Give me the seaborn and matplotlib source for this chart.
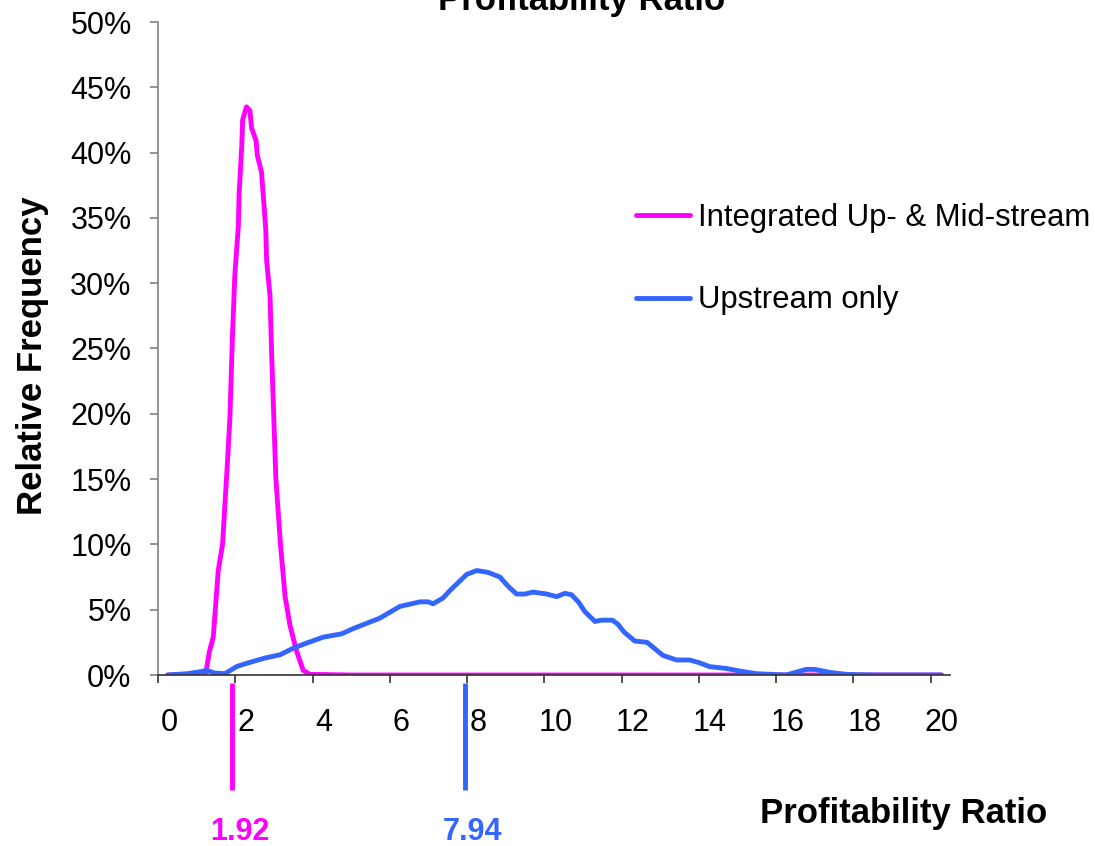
import numpy as np
import pandas as pd
import seaborn as sns
import matplotlib.pyplot as plt
from matplotlib.transforms import ScaledTranslation

#
# Data (x = profitability ratio, y = relative frequency in %)
#

integrated_x = [0.25, 1.0, 1.24, 1.33, 1.43, 1.56, 1.67, 1.79, 1.86, 1.93, 1.99, 2.08, 2.10,
                2.17, 2.19, 2.29, 2.38, 2.42, 2.54, 2.57, 2.68, 2.79, 2.81, 2.90, 2.94,
                3.05, 3.17, 3.29, 3.42, 3.59, 3.76, 3.93, 5.0, 10.0, 15.0, 20.28]
integrated_y = [0.0, 0.0, 0.2, 1.8, 2.9, 8.0, 10.0, 15.9, 19.6, 26.2, 30.7, 34.4, 36.9,
                40.6, 42.5, 43.5, 43.2, 41.9, 40.9, 39.8, 38.5, 34.1, 31.8, 29.0, 24.7,
                15.1, 10.0, 6.0, 3.75, 1.8, 0.35, 0.05, 0.0, 0.0, 0.0, 0.0]

upstream_x = [0.25, 0.75, 1.10, 1.26, 1.47, 1.73, 2.04, 2.30, 2.77, 3.16, 3.50, 3.85, 4.28,
              4.75, 5.05, 5.74, 6.26, 6.78, 7.00, 7.12, 7.38, 7.55, 7.99, 8.25, 8.55,
              8.85, 9.06, 9.28, 9.50, 9.71, 10.06, 10.32, 10.53, 10.70, 10.88, 11.05,
              11.31, 11.48, 11.76, 11.90, 12.06, 12.34, 12.66, 13.07, 13.42, 13.76,
              13.98, 14.28, 14.71, 15.06, 15.49, 16.26, 16.78, 17.00, 17.39, 17.82,
              18.5, 20.28]
upstream_y = [0.0, 0.1, 0.25, 0.35, 0.15, 0.1, 0.65, 0.9, 1.3, 1.55, 2.05, 2.45, 2.9,
              3.15, 3.55, 4.35, 5.25, 5.6, 5.6, 5.45, 5.9, 6.45, 7.7, 8.0, 7.85,
              7.5, 6.8, 6.2, 6.2, 6.35, 6.2, 6.0, 6.25, 6.15, 5.6, 4.85,
              4.1, 4.2, 4.2, 3.9, 3.3, 2.6, 2.5, 1.5, 1.15, 1.15,
              0.97, 0.64, 0.5, 0.3, 0.1, 0.0, 0.43, 0.43, 0.2, 0.05,
              0.0, 0.0]

series_names = ['Integrated Up- & Mid-stream', 'Upstream only']
series_means = [1.92, 7.94]
series_colors = ['#FF00FF', '#3366FF']

x_ticks = list(range(0, 21, 2))
y_ticks = list(range(0, 51, 5))

df = pd.concat([
    pd.DataFrame({'ratio': integrated_x, 'freq': integrated_y, 'series': series_names[0]}),
    pd.DataFrame({'ratio': upstream_x, 'freq': upstream_y, 'series': series_names[1]}),
])

#
# Plot
#

sns.set_style('ticks')
plt.rcParams['font.family'] = ['Liberation Sans', 'DejaVu Sans']
plt.rcParams['text.color'] = 'black'
plt.rcParams['xtick.labelcolor'] = 'black'
plt.rcParams['ytick.labelcolor'] = 'black'
plt.rcParams['axes.labelcolor'] = 'black'

fig = plt.figure(figsize=(10.95, 8.46), dpi=100)
ax = fig.add_axes([158/1095, 1 - 675/846, 792/1095, 653/846])

sns.lineplot(data=df, x='ratio', y='freq', hue='series', hue_order=series_names,
             palette=series_colors, linewidth=3.5, ax=ax, legend=False,
             estimator=None, sort=False)

ax.set_xlim(0, 20.5)
ax.set_ylim(0, 50)
ax.set_xticks(x_ticks)
ax.set_yticks(y_ticks)
ax.set_yticklabels([f'{v}%' for v in y_ticks])

sns.despine(ax=ax)
ax.spines['left'].set_color('#808080')
ax.spines['bottom'].set_color('#333333')
ax.spines['left'].set_linewidth(1.2)
ax.spines['bottom'].set_linewidth(1.2)
ax.tick_params(axis='y', direction='out', length=6, width=1.2, color='#808080',
               labelsize=22, pad=13)
ax.tick_params(axis='x', direction='out', length=6, width=1.2, color='#333333',
               labelsize=22, pad=18)

# excel draws the x labels a little right of their ticks
for lab in ax.get_xticklabels():
    lab.set_transform(lab.get_transform() + ScaledTranslation(0.11, 0, fig.dpi_scale_trans))

ax.set_xlabel('Profitability Ratio', fontsize=25, fontweight='bold')
ax.xaxis.set_label_coords((904 - 158) / 792, (675 - 797) / 653)
ax.set_ylabel('Relative Frequency', fontsize=25, fontweight='bold')
ax.yaxis.set_label_coords((49 - 158) / 792, (675 - 356) / 653)

# mean markers below the axis
for m, c in zip(series_means, series_colors):
    ax.plot([m, m], [-0.6, -8.8], color=c, linewidth=3.5, clip_on=False,
            solid_capstyle='butt')
    ax.text(m + 0.2, -12.0, f'{m:.2f}', color=c, fontsize=22, fontweight='bold',
            ha='center', va='center', clip_on=False)

handles = [plt.Line2D([], [], color=c, linewidth=3.5) for c in series_colors]
ax.legend(handles, series_names, loc='center left',
          bbox_to_anchor=(636/1095, 1 - 259/846), bbox_transform=fig.transFigure,
          frameon=False, fontsize=22.4, handlelength=1.75, handletextpad=0.25,
          labelspacing=1.7, borderpad=0, borderaxespad=0)

fig.text(0.531, 1 - 10/846, 'Profitability Ratio', ha='center', va='baseline',
         fontsize=25, fontweight='bold')

plt.savefig('out.png', dpi=100)
